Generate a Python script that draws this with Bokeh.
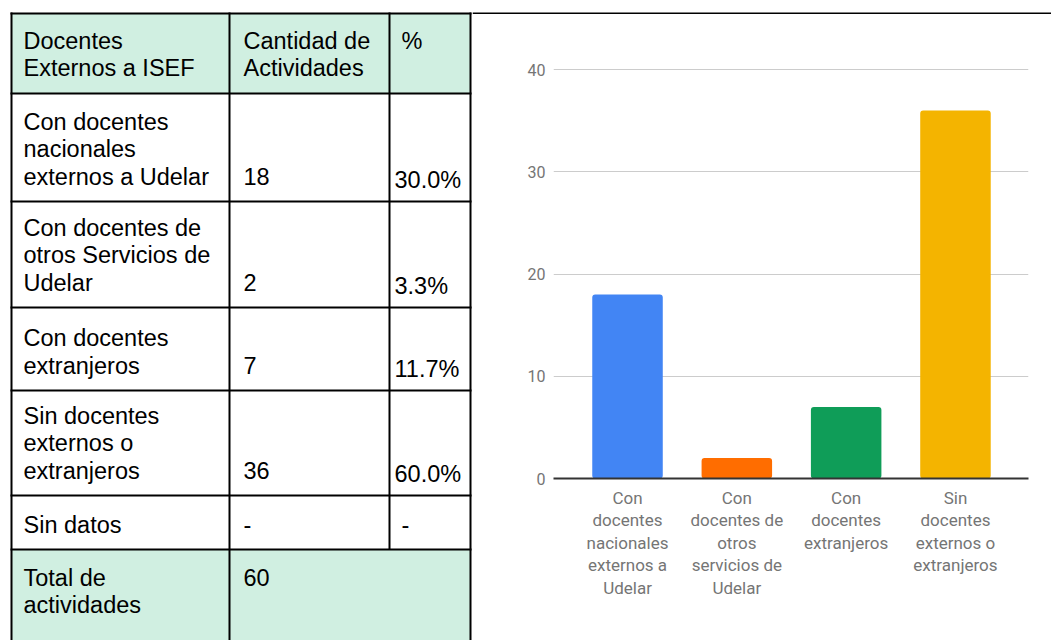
from bokeh.plotting import figure
from bokeh.layouts import row, column
from bokeh.models import Range1d, FixedTicker
from bokeh.core.properties import value
from bokeh.embed import file_html
from bokeh.resources import INLINE

# ---------------- data ----------------
header = ["Docentes\nExternos a ISEF", "Cantidad de\nActividades", "%"]
row_labels = ["Con docentes\nnacionales\nexternos a Udelar",
              "Con docentes de\notros Servicios de\nUdelar",
              "Con docentes\nextranjeros",
              "Sin docentes\nexternos o\nextranjeros",
              "Sin datos"]
row_counts = ["18", "2", "7", "36", "-"]
row_pcts = ["30.0%", "3.3%", "11.7%", "60.0%", "-"]
total_label = "Total de\nactividades"
total_value = "60"

categories = ["Con\ndocentes\nnacionales\nexternos a\nUdelar",
              "Con\ndocentes de\notros\nservicios de\nUdelar",
              "Con\ndocentes\nextranjeros",
              "Sin\ndocentes\nexternos o\nextranjeros"]
counts = [18, 2, 7, 36]
bar_colors = ["#4285f4", "#ff6d00", "#0f9d58", "#f4b400"]
y_ticks = [0, 10, 20, 30, 40]

# ---------------- table (page-pixel coordinates) ----------------
GREEN = "#d0efe1"
FONT = value("Liberation Sans")
FS = "23.5px"
LH = 27.5
col_x = [11, 229, 389, 470]
text_x = [23, 243, 394]
row_y = [13, 93, 201, 307, 390, 495, 549, 641]
W_T, H = 472, 640

t = figure(width=W_T, height=H, x_range=Range1d(0, W_T), y_range=Range1d(H, 0),
           output_backend="svg", toolbar_location=None, min_border=0,
           x_axis_location=None, y_axis_location=None, outline_line_color=None)
t.grid.visible = False

t.quad(left=[col_x[0], col_x[0]], right=[col_x[3], col_x[3]],
       top=[row_y[0], row_y[6]], bottom=[row_y[1], row_y[7]],
       fill_color=GREEN, line_color=None)

tx, ty, tt = [], [], []

def add_block(x, y_first, txt):
    for i, line in enumerate(txt.split("\n")):
        tx.append(x); ty.append(y_first + i * LH); tt.append(line)

for j, h in enumerate(header):
    add_block(text_x[j] + (7 if h == "%" else 0), row_y[0] + 27, h)

for i in range(len(row_labels)):
    last = row_y[i + 2] - 25
    n = len(row_labels[i].split("\n"))
    add_block(text_x[0], last - (n - 1) * LH, row_labels[i])
    add_block(text_x[1], last, row_counts[i])
    add_block(text_x[2] + (7 if row_pcts[i] == "-" else 0),
              last + (3 if row_pcts[i] != "-" else 0), row_pcts[i])

add_block(text_x[0], row_y[6] + 28, total_label)
add_block(text_x[1], row_y[6] + 28, total_value)

t.text(x=tx, y=ty, text=tt, text_font=FONT, text_font_size=FS, text_color="#000000",
       text_baseline="alphabetic", text_align="left")

x0, y0, x1, y1 = [], [], [], []
for yy in row_y[:-1]:
    x0.append(col_x[0] - 1); x1.append(col_x[3] + 1); y0.append(yy); y1.append(yy)
for k, xx in enumerate(col_x):
    x0.append(xx); x1.append(xx); y0.append(row_y[0] - 1)
    y1.append(row_y[6] if k == 2 else H)
t.segment(x0=x0, y0=y0, x1=x1, y1=y1, line_color="#000000", line_width=2)

# ---------------- top border of the chart panel ----------------
W_C = 1051 - W_T
TOP_H = 14
b = figure(width=W_C, height=TOP_H, x_range=Range1d(0, W_C), y_range=Range1d(TOP_H, 0),
           output_backend="svg", toolbar_location=None, min_border=0,
           x_axis_location=None, y_axis_location=None, outline_line_color=None)
b.frame_align = False
b.grid.visible = False
b.quad(left=[0], right=[W_C], top=[12], bottom=[14], fill_color="#000000", line_color=None)

# ---------------- bar chart ----------------
GRAY = "#757575"
xs = list(range(len(categories)))
p = figure(width=W_C, height=H - TOP_H, x_range=Range1d(-0.677, 3.668), y_range=Range1d(0, 45),
           output_backend="svg", toolbar_location=None,
           min_border_left=81, min_border_right=23, min_border_top=4, min_border_bottom=162,
           outline_line_color=None)
p.frame_align = False
p.vbar(x=xs, top=counts, width=0.645, color=bar_colors, line_color=None, border_radius=3)

p.yaxis.ticker = FixedTicker(ticks=y_ticks)
p.yaxis.axis_line_color = None
p.yaxis.major_tick_line_color = None
p.yaxis.minor_tick_line_color = None
p.yaxis.major_label_text_color = GRAY
p.yaxis.major_label_text_font = "Roboto"
p.yaxis.major_label_text_font_size = "16px"
p.yaxis.major_label_standoff = 2

p.xaxis.ticker = FixedTicker(ticks=xs)
p.xaxis.major_label_overrides = {i: c for i, c in enumerate(categories)}
p.xaxis.axis_line_color = "#333333"
p.xaxis.axis_line_width = 2
p.xaxis.major_tick_line_color = None
p.xaxis.minor_tick_line_color = None
p.xaxis.major_label_text_color = GRAY
p.xaxis.major_label_text_font = "Roboto"
p.xaxis.major_label_text_font_size = "17px"
p.xaxis.major_label_text_line_height = 1.13
p.xaxis.major_label_standoff = 3

p.xgrid.visible = False
p.ygrid.grid_line_color = "#cccccc"
p.ygrid.grid_line_width = 1

layout = row(t, column(b, p))

open("out.html", "w").write(file_html(layout, INLINE))
